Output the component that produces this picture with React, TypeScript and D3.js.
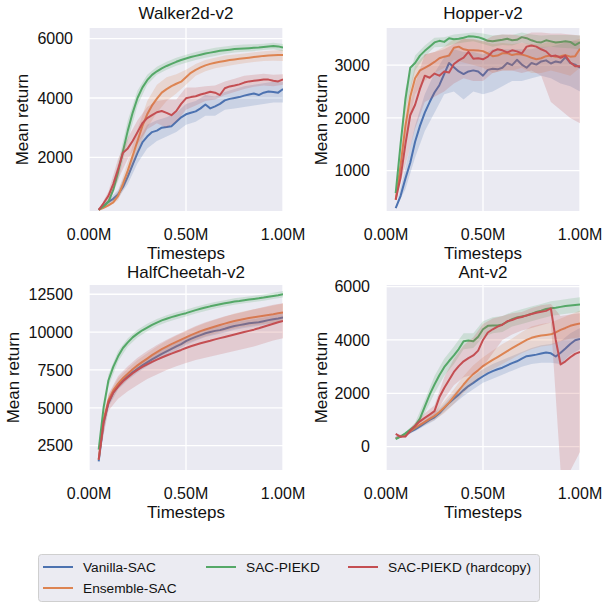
import React from 'react';
import * as d3 from 'd3';

// x grid in millions of timesteps
const steps = [0.05, 0.075, 0.1, 0.125, 0.15, 0.175, 0.2, 0.225, 0.25, 0.275, 0.3, 0.325, 0.35, 0.375, 0.4, 0.425, 0.45, 0.475, 0.5, 0.525, 0.55, 0.575, 0.6, 0.625, 0.65, 0.675, 0.7, 0.725, 0.75, 0.775, 0.8, 0.825, 0.85, 0.875, 0.9, 0.925, 0.95, 0.975, 1.0];
const bandSteps = [0.05, 0.1, 0.15, 0.2, 0.25, 0.3, 0.35, 0.4, 0.45, 0.5, 0.55, 0.6, 0.65, 0.7, 0.75, 0.8, 0.85, 0.9, 0.95, 1.0];

const seriesNames = ['Vanilla-SAC', 'Ensemble-SAC', 'SAC-PIEKD', 'SAC-PIEKD (hardcopy)'];
const seriesColors = ['#4C72B0', '#DD8452', '#55A868', '#C44E52'];
const xTickValues = [0, 0.5, 1.0];

// ---------- Walker2d-v2 ----------
const walkerVanilla = [230, 350, 500, 600, 750, 1000, 1350, 1750, 2150, 2500, 2700, 2850, 2900, 3000, 3020, 3050, 3200, 3350, 3450, 3500, 3550, 3650, 3780, 3650, 3720, 3800, 3920, 3970, 4000, 4030, 4080, 4120, 4150, 4100, 4180, 4220, 4200, 4180, 4300];
const walkerEnsemble = [230, 300, 380, 480, 700, 1100, 1550, 2050, 2550, 3050, 3450, 3750, 3980, 4180, 4300, 4400, 4480, 4550, 4700, 4850, 4950, 5030, 5100, 5150, 5190, 5220, 5250, 5280, 5300, 5320, 5340, 5360, 5380, 5400, 5420, 5430, 5440, 5450, 5450];
const walkerPiekd = [230, 350, 500, 900, 1500, 2200, 2900, 3500, 4000, 4350, 4600, 4780, 4900, 5000, 5080, 5150, 5220, 5280, 5330, 5380, 5420, 5460, 5500, 5530, 5560, 5590, 5610, 5630, 5650, 5660, 5670, 5680, 5690, 5700, 5720, 5740, 5750, 5740, 5700];
const walkerHardcopy = [230, 450, 700, 1100, 1600, 2150, 2300, 2550, 2850, 3150, 3320, 3420, 3520, 3560, 3500, 3420, 3560, 3800, 3990, 4030, 4060, 4120, 4160, 4210, 4180, 4100, 4330, 4390, 4420, 4460, 4520, 4560, 4580, 4600, 4620, 4620, 4580, 4560, 4630];
const walkerVanillaLo = [230, 430, 620, 1100, 1800, 2300, 2550, 2700, 2850, 3100, 3200, 3400, 3400, 3600, 3650, 3700, 3750, 3800, 3850, 3850];
const walkerVanillaHi = [230, 570, 900, 1600, 2500, 3100, 3250, 3350, 3500, 3800, 3900, 4100, 4050, 4200, 4300, 4400, 4450, 4500, 4550, 4550];
const walkerEnsembleLo = [230, 330, 550, 1250, 2150, 3000, 3500, 3900, 4150, 4450, 4750, 4900, 5000, 5060, 5120, 5170, 5210, 5250, 5260, 5250];
const walkerEnsembleHi = [230, 440, 850, 1850, 2950, 3900, 4450, 4700, 4800, 4950, 5150, 5280, 5360, 5430, 5470, 5500, 5540, 5580, 5600, 5620];
const walkerPiekdLo = [230, 420, 1200, 2550, 3750, 4450, 4780, 4950, 5090, 5190, 5280, 5360, 5420, 5480, 5530, 5560, 5580, 5620, 5640, 5580];
const walkerPiekdHi = [230, 600, 1800, 3250, 4250, 4780, 5050, 5220, 5360, 5460, 5550, 5630, 5690, 5740, 5780, 5800, 5810, 5830, 5860, 5820];
const walkerHardcopyLo = [230, 550, 1250, 1950, 2450, 2950, 3150, 3000, 3200, 3600, 3750, 3900, 3950, 4100, 4200, 4300, 4380, 4420, 4400, 4450];
const walkerHardcopyHi = [230, 850, 1950, 2650, 3250, 3700, 3900, 3950, 3950, 4350, 4350, 4400, 4420, 4560, 4650, 4750, 4780, 4820, 4780, 4800];
const walkerYTicks = [2000, 4000, 6000];

// ---------- Hopper-v2 ----------
const hopperVanilla = [290, 520, 850, 1150, 1550, 1850, 2100, 2300, 2480, 2620, 2830, 3040, 2960, 2880, 2830, 2880, 2900, 2880, 2800, 2910, 2930, 2920, 2950, 3040, 3000, 3100, 3010, 2950, 3040, 3010, 3070, 3090, 3030, 3070, 3050, 3150, 3040, 3010, 2950];
const hopperEnsemble = [450, 1100, 1850, 2400, 2750, 2900, 2950, 3000, 3060, 3130, 3160, 3180, 3330, 3350, 3300, 3280, 3280, 3275, 3265, 3220, 3170, 3180, 3225, 3230, 3190, 3210, 3200, 3175, 3140, 3110, 3130, 3170, 3180, 3160, 3170, 3190, 3160, 3170, 3310];
const hopperPiekd = [575, 1500, 2350, 2950, 3040, 3180, 3270, 3350, 3430, 3460, 3440, 3510, 3490, 3500, 3520, 3545, 3540, 3530, 3500, 3460, 3450, 3465, 3480, 3500, 3470, 3480, 3530, 3510, 3470, 3440, 3430, 3470, 3450, 3430, 3440, 3450, 3440, 3380, 3430];
const hopperHardcopy = [450, 870, 1500, 2050, 2250, 2550, 2800, 2760, 2840, 2800, 2880, 2860, 3020, 3090, 3140, 3250, 3120, 3130, 3110, 3160, 3260, 3300, 3280, 3240, 3280, 3260, 3220, 3350, 3370, 3350, 3300, 3260, 3170, 3180, 3140, 3180, 3050, 2980, 2980];
const hopperVanillaLo = [290, 650, 1250, 1750, 2100, 2450, 2500, 2350, 2500, 2450, 2500, 2600, 2700, 2700, 2750, 2800, 2750, 2650, 2600, 2500];
const hopperVanillaHi = [290, 1050, 1850, 2450, 2850, 3150, 3300, 3250, 3250, 3200, 3300, 3300, 3300, 3300, 3300, 3350, 3350, 3400, 3450, 3450];
const hopperEnsembleLo = [450, 1550, 2450, 2700, 2850, 2950, 3100, 3050, 3000, 2950, 2850, 2900, 2900, 2950, 2850, 2850, 2900, 2850, 2800, 2950];
const hopperEnsembleHi = [450, 2150, 3000, 3200, 3250, 3350, 3500, 3500, 3480, 3450, 3400, 3420, 3400, 3420, 3400, 3400, 3450, 3450, 3450, 3500];
const hopperPiekdLo = [575, 2150, 2900, 3170, 3340, 3350, 3400, 3430, 3450, 3400, 3350, 3380, 3370, 3430, 3370, 3330, 3350, 3330, 3320, 3300];
const hopperPiekdHi = [575, 2550, 3180, 3370, 3520, 3530, 3580, 3600, 3620, 3600, 3560, 3580, 3570, 3620, 3580, 3560, 3570, 3570, 3570, 3560];
const hopperHardcopyLo = [450, 1100, 1800, 2300, 2400, 2500, 2650, 2750, 2700, 2700, 2850, 2900, 2900, 2850, 2900, 2800, 2300, 2150, 2000, 1900];
const hopperHardcopyHi = [450, 1900, 2650, 3200, 3250, 3300, 3400, 3500, 3500, 3450, 3550, 3580, 3580, 3550, 3620, 3620, 3600, 3600, 3580, 3560];
const hopperYTicks = [1000, 2000, 3000];

// ---------- HalfCheetah-v2 ----------
const cheetahVanilla = [1460, 4000, 5300, 6000, 6450, 6800, 7080, 7350, 7580, 7800, 8000, 8200, 8380, 8560, 8730, 8890, 9050, 9200, 9400, 9550, 9680, 9800, 9920, 10000, 10080, 10130, 10220, 10320, 10400, 10460, 10520, 10580, 10620, 10650, 10720, 10790, 10850, 10900, 10960];
const cheetahEnsemble = [1570, 4200, 5500, 6150, 6600, 6950, 7250, 7550, 7800, 8030, 8250, 8480, 8680, 8870, 9040, 9200, 9350, 9500, 9650, 9800, 9930, 10060, 10170, 10270, 10370, 10470, 10560, 10650, 10730, 10800, 10870, 10930, 10980, 11030, 11080, 11130, 11180, 11240, 11290];
const cheetahPiekd = [2240, 5000, 6800, 7700, 8400, 8950, 9320, 9650, 9900, 10120, 10300, 10480, 10630, 10770, 10880, 10990, 11080, 11170, 11250, 11350, 11450, 11540, 11620, 11700, 11770, 11840, 11900, 11960, 12020, 12060, 12110, 12150, 12190, 12230, 12280, 12340, 12390, 12440, 12500];
const cheetahHardcopy = [1570, 4050, 5350, 6000, 6400, 6750, 7020, 7280, 7500, 7700, 7870, 8030, 8180, 8320, 8450, 8580, 8700, 8820, 8950, 9060, 9160, 9260, 9350, 9430, 9520, 9600, 9680, 9760, 9840, 9920, 10000, 10080, 10160, 10250, 10350, 10450, 10550, 10650, 10740];
const cheetahVanillaLo = [1460, 5050, 6200, 6830, 7330, 7750, 8130, 8480, 8800, 9150, 9430, 9670, 9830, 9970, 10150, 10270, 10370, 10470, 10600, 10700];
const cheetahVanillaHi = [1460, 5550, 6700, 7330, 7830, 8250, 8630, 8980, 9300, 9650, 9930, 10170, 10330, 10470, 10650, 10770, 10870, 10970, 11100, 11220];
const cheetahEnsembleLo = [1570, 5150, 6250, 6900, 7450, 7900, 8300, 8650, 8950, 9250, 9500, 9720, 9900, 10080, 10230, 10350, 10450, 10530, 10600, 10680];
const cheetahEnsembleHi = [1570, 5850, 6950, 7600, 8150, 8600, 9050, 9430, 9750, 10050, 10350, 10600, 10820, 11020, 11220, 11380, 11500, 11620, 11750, 11880];
const cheetahPiekdLo = [2240, 6400, 8050, 9050, 9650, 10050, 10400, 10650, 10850, 11030, 11230, 11400, 11560, 11690, 11810, 11900, 11980, 12070, 12180, 12290];
const cheetahPiekdHi = [2240, 7200, 8750, 9600, 10150, 10550, 10860, 11110, 11310, 11470, 11670, 11840, 11980, 12110, 12230, 12320, 12400, 12490, 12600, 12710];
const cheetahHardcopyLo = [1570, 4800, 5600, 6100, 6500, 6900, 7200, 7500, 7750, 7950, 8150, 8300, 8450, 8600, 8750, 8900, 9050, 9250, 9450, 9600];
const cheetahHardcopyHi = [1570, 5900, 7100, 7750, 8300, 8750, 9150, 9500, 9800, 10100, 10400, 10650, 10850, 11050, 11200, 11350, 11500, 11650, 11800, 11900];
const cheetahYTicks = [2500, 5000, 7500, 10000, 12500];

// ---------- Ant-v2 ----------
const antVanilla = [330, 380, 440, 550, 650, 760, 880, 1000, 1100, 1250, 1450, 1640, 1800, 1950, 2120, 2270, 2390, 2520, 2640, 2750, 2830, 2900, 2960, 3050, 3130, 3200, 3300, 3390, 3420, 3450, 3490, 3530, 3500, 3380, 3520, 3680, 3850, 3990, 4040];
const antEnsemble = [310, 380, 460, 580, 700, 820, 930, 1040, 1150, 1300, 1470, 1650, 1880, 2100, 2330, 2540, 2720, 2860, 3020, 3140, 3250, 3360, 3470, 3580, 3690, 3800, 3900, 4000, 4080, 4130, 4170, 4190, 4210, 4280, 4380, 4450, 4530, 4580, 4620];
const antPiekd = [280, 380, 500, 640, 780, 1050, 1500, 1950, 2330, 2680, 2980, 3210, 3420, 3660, 3950, 3980, 3950, 4120, 4400, 4530, 4540, 4540, 4580, 4680, 4780, 4840, 4880, 4920, 4980, 5050, 5100, 5160, 5190, 5210, 5240, 5270, 5290, 5310, 5330];
const antHardcopy = [480, 370, 380, 600, 780, 950, 1080, 1200, 1330, 1850, 2200, 2500, 2800, 3020, 3200, 3320, 3420, 3600, 4000, 4280, 4400, 4500, 4570, 4700, 4750, 4820, 4860, 4920, 4970, 5020, 5060, 5090, 5180, 4000, 3080, 3200, 3350, 3480, 3550];
const antVanillaLo = [330, 400, 580, 780, 980, 1300, 1600, 1900, 2150, 2400, 2550, 2700, 2850, 3000, 3100, 3150, 3150, 3100, 3450, 3650];
const antVanillaHi = [330, 480, 720, 980, 1250, 1600, 2000, 2350, 2650, 2900, 3100, 3250, 3400, 3550, 3700, 3800, 3850, 3950, 4250, 4450];
const antEnsembleLo = [310, 420, 620, 820, 1000, 1250, 1600, 2000, 2400, 2700, 2900, 3100, 3300, 3500, 3650, 3750, 3800, 3950, 4050, 4100];
const antEnsembleHi = [310, 500, 780, 1050, 1300, 1700, 2150, 2650, 3050, 3350, 3600, 3850, 4050, 4300, 4500, 4600, 4650, 4800, 4950, 5100];
const antPiekdLo = [280, 450, 650, 1250, 2000, 2650, 3100, 3650, 3700, 4100, 4250, 4300, 4500, 4600, 4700, 4800, 4900, 4950, 5000, 5050];
const antPiekdHi = [280, 550, 900, 1750, 2650, 3300, 3750, 4250, 4250, 4700, 4850, 4900, 5050, 5150, 5250, 5350, 5450, 5500, 5550, 5600];
const antHardcopyLo = [480, 330, 650, 900, 1150, 1800, 2300, 2600, 2700, 3000, 3500, 4000, 4200, 4350, 4450, 4550, 4650, -900, -900, -200];
const antHardcopyHi = [480, 430, 900, 1250, 1550, 2600, 3300, 3800, 4100, 4600, 4800, 4900, 5000, 5050, 5200, 5300, 5350, 4900, 4950, 5000];
const antYTicks = [0, 2000, 4000, 6000];

type Panel = {
  title: string;
  means: number[][];
  los: number[][];
  his: number[][];
  yTicks: number[];
  yDomain: [number, number];
  x0: number;
  y0: number;
  h: number;
  yLabelX: number;
  titleGap: number;
};

const PW = 194;

const panels: Panel[] = [
  {
    title: 'Walker2d-v2',
    means: [walkerVanilla, walkerEnsemble, walkerPiekd, walkerHardcopy],
    los: [walkerVanillaLo, walkerEnsembleLo, walkerPiekdLo, walkerHardcopyLo],
    his: [walkerVanillaHi, walkerEnsembleHi, walkerPiekdHi, walkerHardcopyHi],
    yTicks: walkerYTicks, yDomain: [190, 6360], x0: 89, y0: 28, h: 183, yLabelX: 22, titleGap: 9.5,
  },
  {
    title: 'Hopper-v2',
    means: [hopperVanilla, hopperEnsemble, hopperPiekd, hopperHardcopy],
    los: [hopperVanillaLo, hopperEnsembleLo, hopperPiekdLo, hopperHardcopyLo],
    his: [hopperVanillaHi, hopperEnsembleHi, hopperPiekdHi, hopperHardcopyHi],
    yTicks: hopperYTicks, yDomain: [237, 3703], x0: 386, y0: 28, h: 183, yLabelX: 321, titleGap: 9.5,
  },
  {
    title: 'HalfCheetah-v2',
    means: [cheetahVanilla, cheetahEnsemble, cheetahPiekd, cheetahHardcopy],
    los: [cheetahVanillaLo, cheetahEnsembleLo, cheetahPiekdLo, cheetahHardcopyLo],
    his: [cheetahVanillaHi, cheetahEnsembleHi, cheetahPiekdHi, cheetahHardcopyHi],
    yTicks: cheetahYTicks, yDomain: [890, 13110], x0: 89, y0: 285, h: 185, yLabelX: 13, titleGap: 7,
  },
  {
    title: 'Ant-v2',
    means: [antVanilla, antEnsemble, antPiekd, antHardcopy],
    los: [antVanillaLo, antEnsembleLo, antPiekdLo, antHardcopyLo],
    his: [antVanillaHi, antEnsembleHi, antPiekdHi, antHardcopyHi],
    yTicks: antYTicks, yDomain: [-875, 6060], x0: 386, y0: 285, h: 185, yLabelX: 321, titleGap: 7,
  },
];

const FONT = '"Liberation Sans", Arial, Helvetica, sans-serif';
const TEXT = '#111';

function PanelView({ p, idx }: { p: Panel; idx: number }) {
  const x = d3.scaleLinear().domain([0, 1.0]).range([p.x0, p.x0 + PW]);
  const y = d3.scaleLinear().domain(p.yDomain).range([p.y0 + p.h, p.y0]);
  const line = d3.line<number>().x((_, i) => x(steps[i])).y((d) => y(d));
  const clipId = `clip-${idx}`;
  const fmtX = (v: number) => d3.format('.2f')(v) + 'M';
  return (
    <g>
      <defs>
        <clipPath id={clipId}>
          <rect x={p.x0} y={p.y0} width={PW} height={p.h} />
        </clipPath>
      </defs>
      <rect x={p.x0} y={p.y0} width={PW} height={p.h} fill="#EAEAF2" />
      {p.yTicks.map((t) => (
        <line key={'gy' + t} x1={p.x0} x2={p.x0 + PW} y1={y(t)} y2={y(t)} stroke="#fff" strokeWidth={1.3} />
      ))}
      {xTickValues.map((t) => (
        <line key={'gx' + t} x1={x(t)} x2={x(t)} y1={p.y0} y2={p.y0 + p.h} stroke="#fff" strokeWidth={1.3} />
      ))}
      <g clipPath={`url(#${clipId})`}>
        {p.means.map((m, s) => {
          const area = d3
            .area<number>()
            .x((_, i) => x(bandSteps[i]))
            .y0((_, i) => y(p.los[s][i]))
            .y1((_, i) => y(p.his[s][i]));
          return (
            <g key={s}>
              <path d={area(p.los[s]) || ''} fill={seriesColors[s]} fillOpacity={0.2} stroke="none" />
              <path d={line(m) || ''} fill="none" stroke={seriesColors[s]} strokeWidth={2} strokeLinejoin="round" />
            </g>
          );
        })}
      </g>
      {p.yTicks.map((t) => (
        <text key={'ty' + t} x={p.x0 - 16} y={y(t)} dy="0.36em" textAnchor="end" fontSize={16} fill={TEXT} fontFamily={FONT}>
          {t}
        </text>
      ))}
      {xTickValues.map((t) => (
        <text key={'tx' + t} x={x(t)} y={p.y0 + p.h + 29} textAnchor="middle" fontSize={16} fill={TEXT} fontFamily={FONT}>
          {fmtX(t)}
        </text>
      ))}
      <text x={p.x0 + PW / 2} y={p.y0 + p.h + 47.5} textAnchor="middle" fontSize={17} fill={TEXT} fontFamily={FONT}>
        Timesteps
      </text>
      <text
        transform={`translate(${p.yLabelX},${p.y0 + p.h / 2}) rotate(-90)`}
        dy="0.36em"
        textAnchor="middle"
        fontSize={17}
        fill={TEXT}
        fontFamily={FONT}
      >
        Mean return
      </text>
      <text x={p.x0 + PW / 2} y={p.y0 - p.titleGap} textAnchor="middle" fontSize={17} fill={TEXT} fontFamily={FONT}>
        {p.title}
      </text>
    </g>
  );
}

const legendLayout = [
  { s: 0, col: 0, row: 0 },
  { s: 1, col: 0, row: 1 },
  { s: 2, col: 1, row: 0 },
  { s: 3, col: 2, row: 0 },
];
const legendColX = [43, 206, 348];
const legendRowY = [567, 588];

export default function App() {
  return (
    <svg width={605} height={603} style={{ position: 'absolute', left: 0, top: 0, background: '#fff' }}>
      {panels.map((p, i) => (
        <PanelView key={i} p={p} idx={i} />
      ))}
      <rect x={38.5} y={554.5} width={501} height={47} rx={3} ry={3} fill="#EBEBF2" stroke="#CFCFCF" strokeWidth={1} />
      {legendLayout.map(({ s, col, row }) => (
        <g key={s}>
          <line x1={legendColX[col]} x2={legendColX[col] + 30} y1={legendRowY[row]} y2={legendRowY[row]} stroke={seriesColors[s]} strokeWidth={2} />
          <text x={legendColX[col] + 40} y={legendRowY[row]} dy="0.36em" fontSize={13.7} fill={TEXT} fontFamily={FONT}>
            {seriesNames[s]}
          </text>
        </g>
      ))}
    </svg>
  );
}
